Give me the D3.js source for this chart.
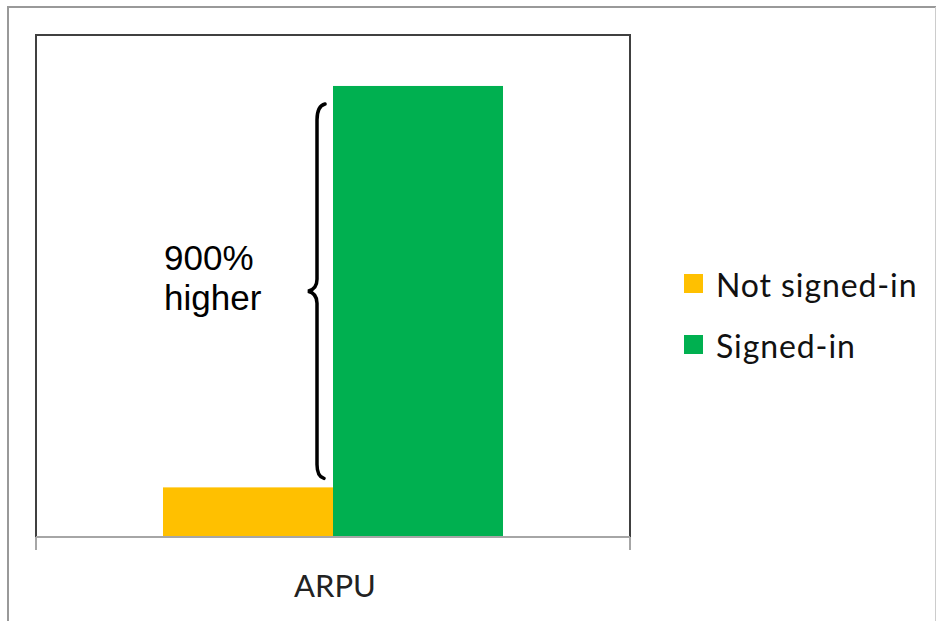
<!DOCTYPE html>
<html><head><meta charset="utf-8">
<script src="https://cdn.jsdelivr.net/npm/d3@7/dist/d3.min.js"></script>
<style>body{margin:0;background:#fff}svg{display:block}</style>
</head><body>
<script>
const categories = ["ARPU"];
const series = ["Not signed-in", "Signed-in"];
const values = [1.1, 10];
const colors = ["#FFC000", "#00B050"];
const annotation = ["900%", "higher"];

const W = 936, H = 621;
const svg = d3.select("body").append("svg").attr("width", W).attr("height", H);

// outer frame
svg.append("line").attr("x1",8).attr("x2",8).attr("y1",7).attr("y2",H).attr("stroke","#999").attr("stroke-width",2);
svg.append("line").attr("x1",7).attr("x2",W).attr("y1",7).attr("y2",7).attr("stroke","#999").attr("stroke-width",2);
svg.append("line").attr("x1",935.5).attr("x2",935.5).attr("y1",7).attr("y2",H).attr("stroke","#ccc").attr("stroke-width",1);

const pLeft = 36, pRight = 630, pTop = 35, pBottom = 537;
const y = d3.scaleLinear().domain([0, 11.13]).range([pBottom, pTop]);
const x0 = d3.scaleBand().domain(categories).range([pLeft, pRight]).paddingInner(0).paddingOuter(0.3735);
const x1 = d3.scaleBand().domain(series).range([0, x0.bandwidth()]);

// bars
const g = svg.append("g");
categories.forEach(c => {
  g.selectAll(null).data(series).enter().append("rect")
    .attr("x", s => x0(c) + x1(s))
    .attr("width", x1.bandwidth())
    .attr("y", (s,i) => y(values[i]))
    .attr("height", (s,i) => pBottom - y(values[i]))
    .attr("fill", (s,i) => colors[i]);
});

// plot box (left, top, right)
svg.append("path").attr("d", `M${pLeft},${pBottom}V${pTop}H${pRight}V${pBottom}`)
  .attr("fill","none").attr("stroke","#404040").attr("stroke-width",2);

// x axis
const xAxis = d3.axisBottom(x0).tickSize(0).tickFormat("");
const ax = svg.append("g").attr("transform", `translate(0,${pBottom})`).call(xAxis);
ax.select(".domain").attr("stroke","#a6a6a6").attr("stroke-width",2).attr("d", `M${pLeft},0H${pRight}`);
const bounds = [pLeft, pRight];
ax.selectAll(".btick").data(bounds).enter().append("line").attr("class","btick")
  .attr("x1", d=>d).attr("x2", d=>d).attr("y1", 0).attr("y2", 13)
  .attr("stroke","#a6a6a6").attr("stroke-width",2);
svg.selectAll(".clabel").data(categories).enter().append("text")
  .attr("x", d => x0(d) + x0.bandwidth()/2 + 2).attr("y", 597)
  .attr("text-anchor","middle").attr("font-family","Lato, 'Open Sans', sans-serif")
  .attr("font-size", 31).attr("fill","#222").text(d=>d);

// brace
const bx = 317, yTop = y(values[1]) + 18, yBot = y(values[0]) - 9;
const yMid = (yTop + yBot) / 2;
const p = d3.path();
p.moveTo(bx + 8, yTop);
p.quadraticCurveTo(bx, yTop + 2, bx, yTop + 16);
p.lineTo(bx, yMid - 12);
p.quadraticCurveTo(bx, yMid - 2, bx - 9, yMid);
p.quadraticCurveTo(bx, yMid + 2, bx, yMid + 12);
p.lineTo(bx, yBot - 14);
p.quadraticCurveTo(bx, yBot - 2, bx + 7, yBot);
svg.append("path").attr("d", p.toString()).attr("fill","none").attr("stroke","#000").attr("stroke-width",3.5).attr("stroke-linecap","round");

svg.append("text").attr("font-family","'Liberation Sans', Arial, sans-serif").attr("font-size",35).attr("fill","#000")
  .selectAll("tspan").data(annotation).enter().append("tspan")
  .attr("x",164).attr("y",(d,i)=>270+i*40).text(d=>d);

// legend
const lg = svg.append("g");
series.forEach((s,i) => {
  const ly = 274 + i*61;
  lg.append("rect").attr("x",684).attr("y",ly).attr("width",19).attr("height",19).attr("fill",colors[i]);
  lg.append("text").attr("x",716).attr("y",ly+23).attr("font-family","Lato, 'Open Sans', sans-serif")
    .attr("font-size",32).attr("letter-spacing","0.9px").attr("fill","#111").text(s);
});
</script>
</body></html>
